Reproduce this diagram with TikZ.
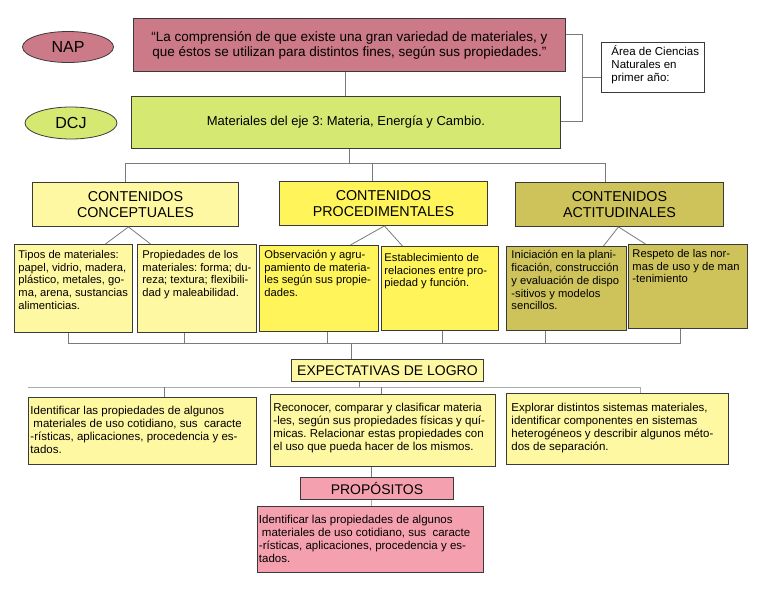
\documentclass[tikz,border=0pt]{standalone}
\usepackage{fontspec}
\setmainfont{Liberation Sans}
\frenchspacing
\usetikzlibrary{shapes.geometric,calc}
\definecolor{napc}{HTML}{CC7A87}
\definecolor{dcjc}{HTML}{D4E872}
\definecolor{ly}{HTML}{FFF8A2}
\definecolor{by}{HTML}{FFF45A}
\definecolor{ol}{HTML}{CEC25A}
\definecolor{pk}{HTML}{F5A0AE}
\definecolor{linec}{HTML}{3A3A3A}
\definecolor{connc}{HTML}{7A7A7A}
\definecolor{lconnc}{HTML}{ABABAB}
\newcommand{\txtbox}[9]{%
  \pgfmathsetmacro\mybw{#4-#2}%
  \pgfmathsetmacro\mybh{#5-#3}%
  \node[tbox, fill=#6, anchor=north west, inner sep=0pt, minimum width=\mybw pt, minimum height=\mybh pt] (#1) at (#2,#3)
  {\vbox to \mybh pt{\hbox to \mybw pt{\hspace*{#7pt}\begin{tabular}[t]{@{}l@{}}\rule{0pt}{#8pt}#9\end{tabular}\hss}\vss}};}
\begin{document}
\begin{tikzpicture}[x=1pt,y=-1pt,
  tbox/.style={draw=linec, line width=0.9pt},
  headbox/.style={draw=linec, line width=0.9pt, anchor=north west, inner sep=0pt, align=center},
  conn/.style={draw=connc, line width=0.8pt},
  lconn/.style={draw=lconnc, line width=1pt}]
\useasboundingbox (0,0) rectangle (768,594);
\fill[white] (0,0) rectangle (768,594);

% top row
\node[draw=linec, line width=0.8pt, ellipse, fill=napc, minimum width=91pt, minimum height=31pt, inner sep=0pt,
  font=\fontsize{16}{18}\selectfont] (napl) at (68,47) {NAP};
\node[draw=linec, line width=0.8pt, ellipse, fill=dcjc, minimum width=92pt, minimum height=32pt, inner sep=0pt,
  font=\fontsize{16}{18}\selectfont] (dcjl) at (71,123) {DCJ};

\node[headbox, fill=napc, minimum width=432pt, minimum height=53pt, font=\fontsize{13.5}{15}\selectfont] (nap) at (133,18)
  {“La comprensión de que existe una gran variedad de materiales, y\\que éstos se utilizan para distintos fines, según sus propiedades."};
\node[headbox, fill=dcjc, minimum width=429pt, minimum height=52pt, font=\fontsize{13}{15}\selectfont] (dcj) at (131,96)
  {Materiales del eje 3: Materia, Energía y Cambio.};

\begin{scope}[tbox/.append style={font=\fontsize{11.5}{13}\selectfont}]
\txtbox{area}{601}{42}{704}{92}{white}{10}{13}{Área de Ciencias\\Naturales en\\primer año:}
\end{scope}

% headers
\node[headbox, fill=ly, minimum width=206pt, minimum height=44pt, font=\fontsize{14.3}{16}\selectfont] (cc) at (32,182) {CONTENIDOS\\CONCEPTUALES};
\node[headbox, fill=by, minimum width=208pt, minimum height=44pt, font=\fontsize{14.3}{16}\selectfont] (cp) at (279,181) {CONTENIDOS\\PROCEDIMENTALES};
\node[headbox, fill=ol, minimum width=208pt, minimum height=44pt, font=\fontsize{14.3}{16}\selectfont] (ca) at (515,182) {CONTENIDOS\\ACTITUDINALES};

% sub boxes
\begin{scope}[tbox/.append style={font=\fontsize{11.2}{12.7}\selectfont}]
\txtbox{b1}{14}{244}{132}{332}{ly}{4}{14}{Tipos de materiales:\\papel, vidrio, madera,\\plástico, metales, go-\\ma, arena, sustancias\\alimenticias.}
\txtbox{b2}{137}{244}{256}{332}{ly}{5}{14}{Propiedades de los\\materiales: forma; du-\\reza; textura; flexibili-\\dad y maleabilidad.}
\txtbox{b3}{259}{245}{378}{331}{by}{5}{13}{Observación y agru-\\pamiento de materia-\\les según sus propie-\\dades.}
\txtbox{b4}{381}{246}{498}{330}{by}{3}{15}{Establecimiento de\\relaciones entre pro-\\piedad y función.}
\txtbox{b5}{506}{246}{626}{330}{ol}{5}{12.5}{Iniciación en la plani-\\ficación, construcción\\y evaluación de dispo\\-sitivos y modelos\\sencillos.}
\txtbox{b6}{628}{244}{747}{328}{ol}{4}{13}{Respeto de las nor-\\mas de uso y de man\\-tenimiento}
\end{scope}

\node[headbox, fill=ly, minimum width=192pt, minimum height=22pt, font=\fontsize{14}{16}\selectfont] (exp) at (291,359) {EXPECTATIVAS DE LOGRO};

\begin{scope}[tbox/.append style={font=\fontsize{11.5}{13}\selectfont}]
\txtbox{e1}{28}{397}{256}{464}{ly}{2}{17}{Identificar las propiedades de algunos\\\hspace*{3pt}materiales de uso cotidiano, sus\ \ caracte\\-rísticas, aplicaciones, procedencia y es-\\tados.}
\txtbox{e2}{270}{394}{495}{466}{ly}{3}{17}{Reconocer, comparar y clasificar materia\\-les, según sus propiedades físicas y quí-\\micas. Relacionar estas propiedades con\\el uso que pueda hacer de los mismos.}
\txtbox{e3}{506}{393}{728}{464}{ly}{5}{18}{Explorar distintos sistemas materiales,\\identificar componentes en sistemas\\heterogéneos y describir algunos méto-\\dos de separación.}
\end{scope}

\node[headbox, fill=pk, minimum width=153pt, minimum height=22pt, font=\fontsize{14}{16}\selectfont] (prop) at (300,477) {PROPÓSITOS};

\begin{scope}[tbox/.append style={font=\fontsize{11.5}{13}\selectfont}]
\txtbox{pur}{257}{506}{483}{572}{pk}{1.5}{17}{Identificar las propiedades de algunos\\\hspace*{3pt}materiales de uso cotidiano, sus\ \ caracte\\-rísticas, aplicaciones, procedencia y es-\\tados.}
\end{scope}

% connectors: top
\coordinate (v1) at (345,0);
\draw[conn] (nap.south -| v1) -- (dcj.north -| v1);
\coordinate (brt) at (582,34);
\coordinate (brm) at (582,77);
\coordinate (brb) at (582,121);
\draw[conn] (nap.east |- brt) -- (brt) -- (brb) -- (dcj.east |- brb);
\draw[conn] (brm) -- (area.west |- brm);

% DCJ to headers
\coordinate (h) at (349,163);
\draw[conn] (dcj.south -| h) -- (h);
\draw[conn] ([xshift=-10pt]cc.north) |- (h);
\draw[conn] ([xshift=-11pt]cp.north) |- (h);
\draw[conn] ([xshift=-14pt]ca.north) |- (h);

% headers to sub boxes
\draw[conn] ([xshift=32pt]b1.north) -- ([xshift=-7pt]cc.south) -- ([xshift=-46.5pt]b2.north);
\draw[conn] ([xshift=31.5pt]b3.north) -- ([xshift=1pt]cp.south) -- ([xshift=-37.5pt]b4.north);
\draw[conn] ([xshift=37pt]b5.north) -- ([xshift=-1pt]ca.south) -- ([xshift=-42.5pt]b6.north);

% sub boxes to expectativas
\coordinate (bb) at (351,343);
\draw[conn] ([xshift=-5pt]b1.south) |- (bb);
\draw[conn] ([xshift=-13pt]b2.south) |- (bb);
\draw[conn] ([xshift=8.5pt]b3.south) |- (bb);
\draw[conn] ([xshift=2.5pt]b4.south) |- (bb);
\draw[conn] ([xshift=-21pt]b5.south) |- (bb);
\draw[conn] ([xshift=-7.5pt]b6.south) |- (bb);
\draw[conn] (bb) -- (exp.north -| bb);

% expectativas to boxes
\coordinate (eb) at (359,387);
\coordinate (d1) at (164,387);
\coordinate (d2) at (381,387);
\coordinate (d3) at (640,387);
\draw[conn] (exp.south -| eb) -- (eb);
\draw[lconn] (e1.north west |- eb) -- (d3);
\draw[conn] (d1) -- (e1.north -| d1);
\draw[conn] (d2) -- (e2.north -| d2);
\draw[lconn] (d3) -- (e3.north -| d3);

% to propositos
\coordinate (pv) at (371,0);
\draw[conn] (e2.south -| pv) -- (prop.north -| pv);
\draw[lconn] (prop.south -| pv) -- (pur.north -| pv);
\end{tikzpicture}
\end{document}
